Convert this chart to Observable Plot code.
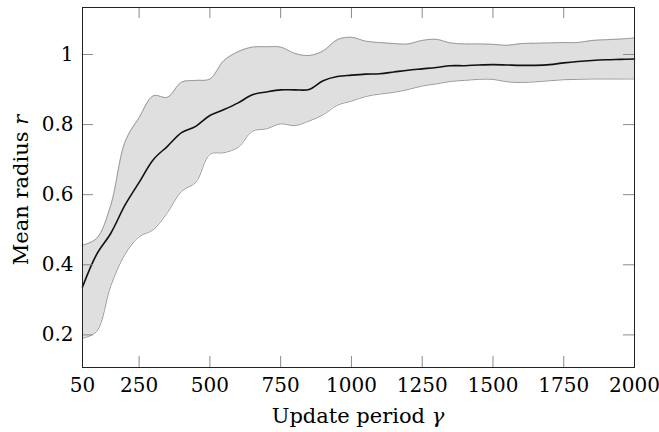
<!DOCTYPE html>
<html>
<head>
<meta charset="utf-8">
<script src="https://cdn.jsdelivr.net/npm/d3@7"></script>
<script src="https://cdn.jsdelivr.net/npm/@observablehq/plot@0.6"></script>
<style>
  html, body { margin: 0; padding: 0; background: #fff; }
</style>
</head>
<body>
<div id="chart"></div>
<script>
const gamma = [50,100,150,200,250,300,350,400,450,500,550,600,650,700,750,800,850,900,950,1000,
  1050,1100,1150,1200,1250,1300,1350,1400,1450,1500,1550,1600,1650,1700,1750,1800,1850,1900,1950,2000];
const meanR = [0.337,0.430,0.490,0.570,0.635,0.700,0.738,0.777,0.795,0.826,0.843,0.862,0.885,0.893,0.899,0.899,0.900,0.925,0.937,0.941,
  0.944,0.945,0.950,0.955,0.959,0.963,0.968,0.968,0.970,0.971,0.970,0.969,0.969,0.971,0.976,0.980,0.983,0.985,0.986,0.987];
const upperR = [0.456,0.475,0.570,0.750,0.820,0.882,0.878,0.921,0.926,0.930,0.983,1.008,1.021,1.022,1.021,1.003,0.997,1.010,1.042,1.049,
  1.038,1.034,1.031,1.030,1.040,1.043,1.033,1.030,1.030,1.029,1.026,1.031,1.032,1.033,1.034,1.034,1.040,1.042,1.044,1.047];
const lowerR = [0.190,0.210,0.340,0.430,0.480,0.500,0.549,0.610,0.635,0.715,0.720,0.735,0.781,0.788,0.802,0.797,0.810,0.828,0.855,0.867,
  0.880,0.887,0.892,0.900,0.910,0.916,0.923,0.926,0.929,0.929,0.922,0.920,0.922,0.925,0.928,0.929,0.930,0.930,0.930,0.930];
const xTicks = [50,250,500,750,1000,1250,1500,1750,2000];
const yTicks = [0.2,0.4,0.6,0.8,1];
const xLabel = "Update period ";
const xLabelVar = "γ";
const yLabel = "Mean radius ";
const yLabelVar = "r";

const data = gamma.map((g, i) => ({g, mean: meanR[i], lo: lowerR[i], hi: upperR[i]}));
const curve = "catmull-rom";

const W = 659, H = 432, mL = 82, mR = 25, mT = 7, mB = 65;
const fw = W - mL - mR, fh = H - mT - mB, tk = 11;
const tickStroke = "#8a8a8a";
const serif = "DejaVu Serif";

const plot = Plot.plot({
  width: W,
  height: H,
  marginLeft: mL,
  marginRight: mR,
  marginTop: mT,
  marginBottom: mB,
  style: {fontSize: "20px", color: "#000", background: "#fff"},
  x: {domain: [50, 2000]},
  y: {domain: [0.107, 1.134]},
  marks: [
    Plot.areaY(data, {x: "g", y1: "lo", y2: "hi", fill: "#dfdfdf", curve}),
    Plot.line(data, {x: "g", y: "hi", stroke: "#9a9a9a", strokeWidth: 1, curve}),
    Plot.line(data, {x: "g", y: "lo", stroke: "#9a9a9a", strokeWidth: 1, curve}),
    Plot.line(data, {x: "g", y: "mean", stroke: "#111", strokeWidth: 1.6, curve}),
    Plot.ruleX(xTicks, {x: d => d, insetTop: fh - tk, stroke: tickStroke}),
    Plot.ruleX(xTicks, {x: d => d, insetBottom: fh - tk, stroke: tickStroke}),
    Plot.ruleY(yTicks, {y: d => d, insetRight: fw - tk, stroke: tickStroke}),
    Plot.ruleY(yTicks, {y: d => d, insetLeft: fw - tk, stroke: tickStroke}),
    Plot.axisX({anchor: "bottom", ticks: xTicks, tickSize: 0, tickFormat: d => String(d), tickPadding: 10, fontSize: 20, label: null}),
    Plot.axisY({anchor: "left", ticks: yTicks, tickSize: 0, tickFormat: d => String(d), tickPadding: 9, fontSize: 20, label: null}),
    Plot.frame({stroke: "#222", strokeWidth: 1})
  ]
});

const svg = d3.select(plot);
const xt = svg.append("text")
  .attr("x", 358).attr("y", 423)
  .attr("text-anchor", "middle")
  .attr("font-size", 21).attr("fill", "#000");
xt.append("tspan").text(xLabel);
xt.append("tspan").attr("font-style", "italic").text(xLabelVar);

const yt = svg.append("text")
  .attr("transform", "translate(28,190) rotate(-90)")
  .attr("text-anchor", "middle")
  .attr("font-size", 21).attr("fill", "#000");
yt.append("tspan").text(yLabel);
yt.append("tspan").attr("font-style", "italic").text(yLabelVar);

svg.style("font-family", serif);
svg.selectAll("text, g").style("font-family", serif);

document.getElementById("chart").appendChild(plot);
</script>
</body>
</html>
